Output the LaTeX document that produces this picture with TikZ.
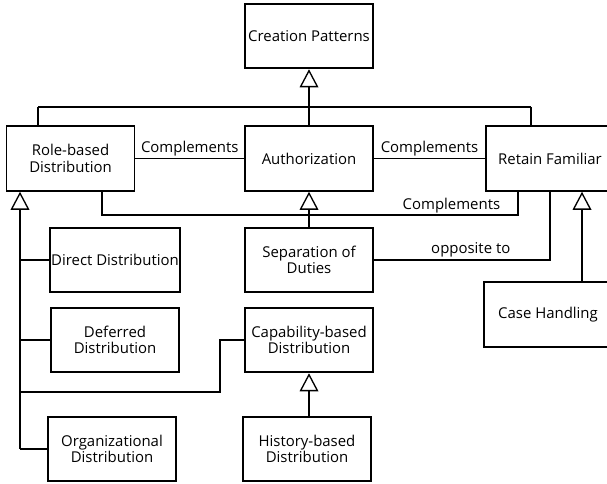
\documentclass[tikz,border=0pt]{standalone}
\usepackage{fontspec}
\setmainfont{Open Sans}
\usepackage{tikz}
\usetikzlibrary{arrows.meta}

\begin{document}
\begin{tikzpicture}[x=0.75pt, y=-0.75pt,
    pattern/.style={draw, line width=1.4pt, minimum width=96pt, minimum height=48.5pt,
        inner xsep=1pt, align=center, font=\fontsize{11.2}{12.4}\selectfont},
    link/.style={line width=1.8pt},
    inh/.style={link, -{Triangle[fill=white, line width=1pt, length=13.5pt, width=14pt]}},
    lbl/.style={font=\fontsize{11.2}{12.4}\selectfont, inner sep=1pt}]
    \clip (0,0) rectangle (607,484);

    % patterns
    \node[pattern] (creation) at (309,36) {Creation Patterns};
    \node[pattern] (rolebased) at (70.5,158.5) {Role-based\\Distribution};
    \node[pattern] (authz) at (309,158.5) {Authorization};
    \node[pattern] (retain) at (550,158.5) {Retain Familiar};
    \node[pattern] (direct) at (115,260) {Direct Distribution};
    \node[pattern] (sepduties) at (309,260) {Separation of\\Duties};
    \node[pattern] (deferred) at (115,340) {Deferred\\Distribution};
    \node[pattern] (capability) at (309,340) {Capability-based\\Distribution};
    \node[pattern] (casehandling) at (548,314.5) {Case Handling};
    \node[pattern] (orgdist) at (112,449) {Organizational\\Distribution};
    \node[pattern] (history) at (307,449) {History-based\\Distribution};

    % bend points
    \coordinate (busl) at (38,107);
    \coordinate (busr) at (531,107);
    \coordinate (cpl) at (102,215);
    \coordinate (cpr) at (518,215);
    \coordinate (opp) at (550,260);
    \coordinate (chx) at (582,0);
    \coordinate (spine) at (20,449);
    \coordinate (capbend) at (220,392);

    % generalisation towards Creation Patterns
    \draw[link] (busl) -- (busr);
    \draw[link] (busl) -- (rolebased.north -| busl);
    \draw[link] (busr) -- (retain.north -| busr);
    \draw[inh] (authz.north) -- (creation.south);

    % relations between the three
    \draw[link, line width=1.4pt] (rolebased) -- node[lbl, above] {Complements} (authz);
    \draw[link, line width=1.4pt] (authz) -- node[lbl, above] {Complements} (retain);
    \draw[link, line width=1.4pt] (rolebased.south -| cpl) -- (cpl) -- node[lbl, above, pos=0.84] {Complements} (cpr) -- (retain.south -| cpr);
    \draw[link] (sepduties.east) -- node[lbl, above, pos=0.55] {opposite to} (opp) -- (retain.south -| opp);

    % specialisations
    \draw[inh] (sepduties) -- (authz);
    \draw[inh] (casehandling.north -| chx) -- (retain.south -| chx);
    \draw[inh] (history.north -| capability.south) -- (capability.south);
    \draw[inh] (spine) -- (rolebased.south -| spine);
    \draw[link] (spine |- direct.west) -- (direct.west);
    \draw[link] (spine |- deferred.west) -- (deferred.west);
    \draw[link] (spine) -- (orgdist.west);
    \draw[link] (spine |- capbend) -- (capbend) |- (capability.west);
\end{tikzpicture}
\end{document}
